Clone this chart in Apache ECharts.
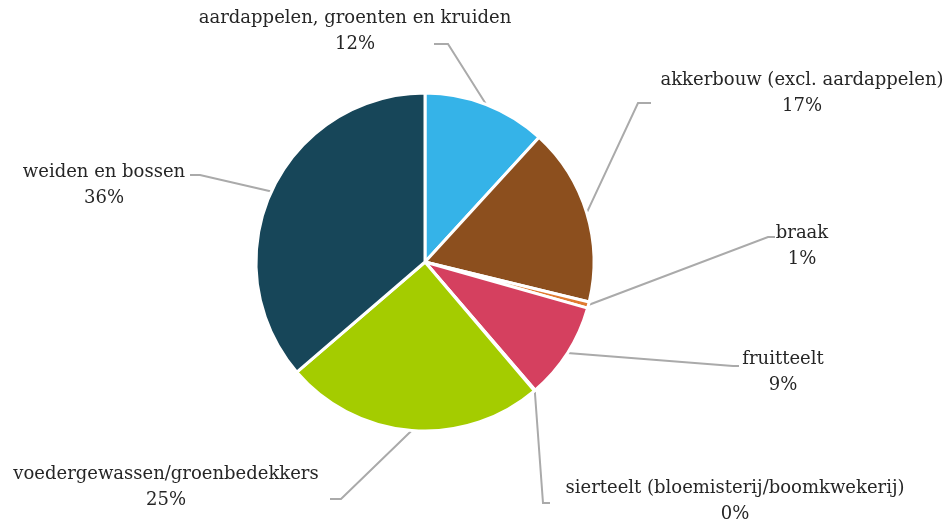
<!DOCTYPE html>
<html>
<head>
<meta charset="utf-8">
<script src="https://cdn.jsdelivr.net/npm/echarts@6/dist/echarts.min.js"></script>
<style>
  html, body { margin: 0; padding: 0; background: #fff; }
  #chartPie { width: 950px; height: 521px; }
</style>
</head>
<body>
<div id="chartPie"></div>
<script>
  // data
  const categories = [
    'aardappelen, groenten en kruiden',
    'akkerbouw (excl. aardappelen)',
    'braak',
    'fruitteelt',
    'sierteelt (bloemisterij/boomkwekerij)',
    'voedergewassen/groenbedekkers',
    'weiden en bossen'
  ];
  const shares = [11.8, 17.0, 0.6, 9.3, 0.1, 24.9, 36.3];
  const colors = ['#35b3e8', '#8c4f1e', '#e07a30', '#d5405f', '#d5405f', '#a4cc00', '#174659'];

  // label placement: text centre, then elbow and end of the label line
  const labelPos = [
    { x: 355, y: 31, elbow: [448, 44], end: [434, 44] },
    { x: 802, y: 93, elbow: [638, 103], end: [651, 103] },
    { x: 802, y: 246, elbow: [768, 237], end: [775, 237] },
    { x: 783, y: 372, elbow: [733, 366], end: [739, 366] },
    { x: 735, y: 501, elbow: [543, 503], end: [550, 503] },
    { x: 166, y: 487, elbow: [341, 499], end: [330, 499] },
    { x: 104, y: 185, elbow: [200, 175], end: [190, 175] }
  ];

  const center = [425, 262];
  const radius = 169;

  let pieData = [];
  for (let i = 0; i < categories.length; i++) {
    pieData.push({ name: categories[i], value: shares[i], itemStyle: { color: colors[i] } });
  }

  const total = shares.reduce((a, b) => a + b, 0);

  function edgePoint(idx) {
    let before = 0;
    for (let i = 0; i < idx; i++) before += shares[i];
    const mid = (before + shares[idx] / 2) / total * Math.PI * 2;
    return [center[0] + Math.sin(mid) * radius, center[1] - Math.cos(mid) * radius];
  }

  const chartPie = echarts.init(document.getElementById('chartPie'));
  chartPie.setOption({
    animation: false,
    series: [{
      name: 'grondgebruik',
      type: 'pie',
      center: center,
      radius: radius,
      startAngle: 90,
      clockwise: true,
      avoidLabelOverlap: false,
      data: pieData,
      itemStyle: { borderColor: '#fff', borderWidth: 3 },
      label: {
        show: true,
        position: 'outside',
        fontFamily: 'DejaVu Serif',
        fontSize: 18,
        lineHeight: 26,
        color: '#262626',
        align: 'center',
        formatter: function (p) {
          return p.name + '\n' + Math.round(p.value) + '%';
        }
      },
      labelLine: {
        show: true,
        length: 20,
        length2: 10,
        lineStyle: { color: '#aaaaaa', width: 2 }
      },
      labelLayout: function (params) {
        const pos = labelPos[params.dataIndex];
        let start = params.labelLinePoints && params.labelLinePoints[0];
        if (!start) start = edgePoint(params.dataIndex);
        return {
          x: pos.x,
          y: pos.y,
          align: 'center',
          verticalAlign: 'middle',
          labelLinePoints: [start, pos.elbow, pos.end]
        };
      }
    }]
  });
</script>
</body>
</html>
